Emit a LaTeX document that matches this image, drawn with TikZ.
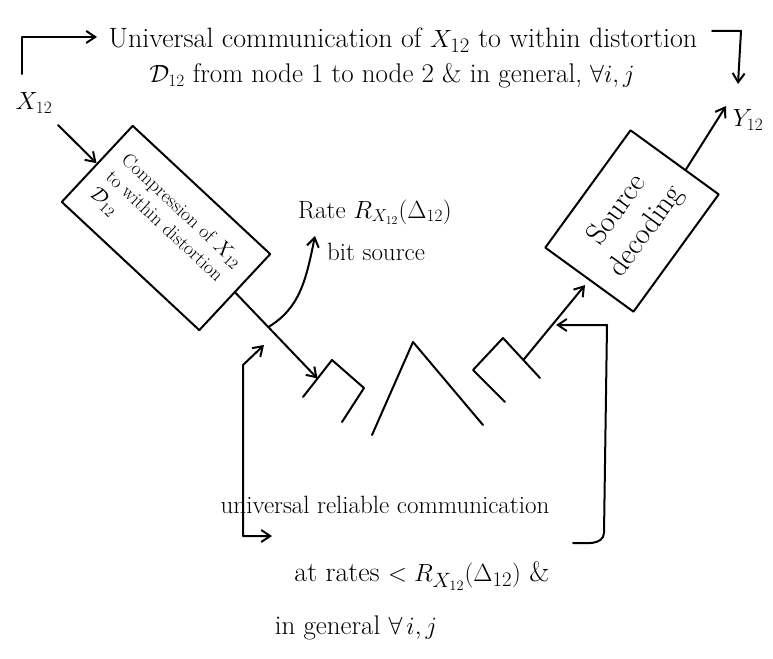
\documentclass[tikz,border=0pt]{standalone}
\usetikzlibrary{arrows.meta,calc}
\begin{document}
\begin{tikzpicture}[x=1pt,y=-1pt,
  ln/.style={line width=2pt,line join=round,line cap=round},
  arr/.style={ln,-{Straight Barb[length=9pt,width=12pt,line width=2pt]}},
  darr/.style={ln,{Straight Barb[length=9pt,width=12pt,line width=2pt]}-{Straight Barb[length=9pt,width=12pt,line width=2pt]}},
  txtA/.style={font=\fontsize{28}{33}\selectfont,inner sep=0pt},
  txtB/.style={font=\fontsize{27}{31}\selectfont,inner sep=0pt},
  txtC/.style={font=\fontsize{25}{29}\selectfont,inner sep=0pt},
  boxA/.style={draw,ln,inner sep=3pt,align=left,font=\fontsize{19.5}{23}\selectfont},
  boxB/.style={draw,ln,inner sep=3pt,align=center,font=\fontsize{30}{36}\selectfont}]
\useasboundingbox[fill=white] (0,0) rectangle (773,658);

% texts
\node[txtA] (top1) at (403,40) {Universal communication of $X_{12}$ to within distortion};
\node[txtB] (top2) at (392,76) {$\mathcal{D}_{12}$ from node 1 to node 2 \& in general, $\forall i,j$};
\node[txtB] (xin) at (34,103) {$X_{12}$};
\node[txtB] (yout) at (748,120) {$Y_{12}$};
\node[txtC] (rate) at (375,212) {Rate $R_{X_{12}}(\Delta_{12})$};
\node[txtC] (bits) at (376,252) {bit source};
\node[txtC] (bot1) at (385,505) {universal reliable communication};
\node[txtA] (bot2) at (422,576) {at rates $<R_{X_{12}}(\Delta_{12})$ \&};
\node[txtB] (bot3) at (356,628) {in general $\forall\, i,j$};

% boxes
\node[boxA,rotate=-43,minimum width=188,minimum height=104] (comp) at (166,228)
  {Compression of $X_{12}$\\ to within distortion\\ $\mathcal{D}_{12}$};
\node[boxB,rotate=54,minimum width=145,minimum height=109] (dec) at (632,221)
  {Source\\ decoding};

% channel fragments
\coordinate (l1) at (303,397); \coordinate (l2) at (332,360);
\coordinate (l3) at (364,388); \coordinate (l4) at (342,422);
\draw[ln] (l1) -- (l2) -- (l3) -- (l4);
\coordinate (p1) at (372,435); \coordinate (p2) at (413,342); \coordinate (p3) at (483,425);
\draw[ln] (p1) -- (p2) -- (p3);
\coordinate (r1) at (505,402); \coordinate (r2) at (473,370);
\coordinate (r3) at (503,338); \coordinate (r4) at (540,378);
\draw[ln] (r1) -- (r2) -- (r3) -- (r4);

% top brackets
\coordinate (tl0) at (22,74); \coordinate (tl1) at (22,37); \coordinate (tl2) at (97,37);
\draw[arr] (tl0) -- (tl1) -- (tl2);
\coordinate (tr0) at (712,31); \coordinate (tr1) at (741,31); \coordinate (tr2) at (738,84);
\draw[arr] (tr0) -- (tr1) -- (tr2);

% main flow
\coordinate (xs) at (58,125);
\draw[arr] (xs) -- (comp.west);
\coordinate (lt) at ($(l1)!0.5!(l2)$);
\draw[arr] (comp.east) -- (lt);
\coordinate (rs) at ($(r3)!0.55!(r4)$);
\draw[arr] (rs) -- ($(dec.west)!6pt!(rs)$);
\coordinate (ds) at ($(dec.north east)!0.62!(dec.south east)$);
\coordinate (ye) at (726,106);
\draw[arr] (ds) -- (ye);

% rate arrow
\coordinate (rt0) at ($(comp.east)!0.4!(lt)$);
\coordinate (rt1) at (315,236);
\draw[arr] (rt0) .. controls (300,308) and (306,280) .. (rt1);

% bottom brackets
\coordinate (bl0) at (264,345); \coordinate (bl1) at (243,365);
\coordinate (bl2) at (243,536); \coordinate (bl3) at (272,536);
\draw[darr] (bl0) -- (bl1) -- (bl2) -- (bl3);
\coordinate (br0) at (573,543); \coordinate (br1) at (604,533);
\coordinate (br2) at (607,325); \coordinate (br3) at (556,325);
\draw[arr] (br0) to[out=0,in=-95] (br1) -- (br2) -- (br3);
\end{tikzpicture}
\end{document}
